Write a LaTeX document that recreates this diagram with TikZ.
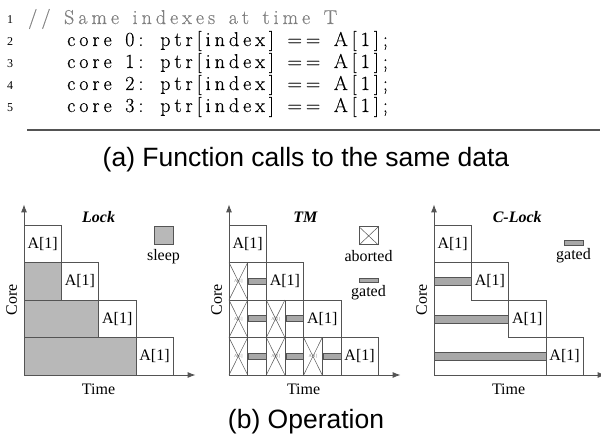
\documentclass[tikz,border=0pt]{standalone}
\usepackage{fontspec}
\setmainfont{Liberation Serif}
\newfontfamily\capfont{Liberation Sans}
\newfontfamily\codefont[LetterSpace=20,FakeBold=0.4,WordSpace=1.35]{Latin Modern Roman}
\usetikzlibrary{arrows.meta}

\definecolor{linegray}{gray}{0.33}
\definecolor{sleepgray}{gray}{0.72}
\definecolor{bargray}{gray}{0.66}
\definecolor{commentgray}{gray}{0.5}

\providecommand*{\rowH}{}
\providecommand*{\colW}{}
\renewcommand*{\rowH}{37.5pt}
\renewcommand*{\colW}{37.3pt}

\tikzset{
  box/.style={draw=linegray,line width=0.8pt},
  sleepbox/.style={box,fill=sleepgray},
  gatebar/.style={fill=bargray,draw=linegray,line width=0.6pt},
  lbl/.style={inner sep=0pt,font=\fontsize{16}{16}\selectfont},
  tinylbl/.style={inner sep=0pt,text=commentgray,font=\fontsize{4.5}{4.5}\selectfont},
  ptitle/.style={inner sep=0pt,font=\fontsize{16}{16}\selectfont\bfseries\itshape},
  codeline/.style={inner sep=0pt,anchor=base west,font=\codefont\fontsize{20}{20}\selectfont},
  lineno/.style={inner sep=0pt,anchor=base,font=\fontsize{12}{12}\selectfont},
  caption/.style={inner sep=0pt,anchor=base,font=\capfont\fontsize{26.5}{26.5}\selectfont},
  axis/.style={<->,>={Latex[length=8pt,width=6pt]},line width=0.9pt,draw=linegray},
}

% aborted cell: lower left corner, half a column wide
\newcommand*{\abortcell}[3]{%
  \node[tinylbl] (#3) at (#1+0.25,#2+0.5) {A[1]};
  \draw[box] (#1,#2) rectangle ++(0.5,1);
  \draw[box,line width=0.5pt] (#1,#2) -- ++(0.5,1) (#1+0.5,#2) -- ++(-0.5,1);
}

\begin{document}
\begin{tikzpicture}[x=1pt,y=-1pt]
  \useasboundingbox (0,0) rectangle (601,438);

%listing
  \node[lineno] (n1) at (10,24) {1};
  \node[lineno] (n2) at (10,46) {2};
  \node[lineno] (n3) at (10,68) {3};
  \node[lineno] (n4) at (10,90) {4};
  \node[lineno] (n5) at (10,112) {5};
  \node[codeline,text=commentgray] (l1) at (28,24) {// Same indexes at time T};
  \node[codeline] (l2) at (67,46) {core 0: ptr[index] == A[1];};
  \node[codeline] (l3) at (67,68) {core 1: ptr[index] == A[1];};
  \node[codeline] (l4) at (67,90) {core 2: ptr[index] == A[1];};
  \node[codeline] (l5) at (67,112) {core 3: ptr[index] == A[1];};
  \draw [linegray,line width=1.2pt] (27,130) -- (600,130);
  \node[caption] (capa) at (306,167) {(a) Function calls to the same data};

%Lock
  \begin{scope}[shift={(24,375)},x=\colW,y=\rowH]
    \draw [sleepbox] (0,0) rectangle (3,1);
    \draw [sleepbox] (0,1) rectangle (2,2);
    \draw [sleepbox] (0,2) rectangle (1,3);
    \draw [box] (3,0) rectangle (4,1) node [lbl,midway] (lk3) {A[1]};
    \draw [box] (2,1) rectangle (3,2) node [lbl,midway] (lk2) {A[1]};
    \draw [box] (1,2) rectangle (2,3) node [lbl,midway] (lk1) {A[1]};
    \draw [box] (0,3) rectangle (1,4) node [lbl,midway] (lk0) {A[1]};
    \draw [sleepbox] (3.49,3.47) rectangle (4,3.95);
    \node[lbl] (lksleep) at (3.74,3.15) {sleep};
    \node[ptitle] (lktitle) at (2,4.2) {Lock};
    \node[lbl,rotate=90] (lkcore) at (-0.33,2) {Core};
    \node[lbl] (lktime) at (2,-0.37) {Time};
    \draw [axis] (0,4.55) |- (4.6,0);
  \end{scope}

%TM
  \begin{scope}[shift={(229,375)},x=\colW,y=\rowH]
%rows
    \draw [box] (0,3) rectangle (1,4) node [lbl,midway] (tm0) {A[1]};
    \draw [box] (0,2) rectangle (2,3);
    \draw [box] (0,1) rectangle (3,2);
    \draw [box] (0,0) rectangle (4,1);
%v
    \draw [box] (1,0) -- (1,3);
    \draw [box] (2,0) -- (2,2);
    \draw [box] (3,0) -- (3,1);
    \draw [box] (1.5,0) -- (1.5,2);
    \draw [box] (2.5,0) -- (2.5,1);
    \node[lbl] (tm1) at (1.5,2.5) {A[1]};
    \node[lbl] (tm2) at (2.5,1.5) {A[1]};
    \node[lbl] (tm3) at (3.5,0.5) {A[1]};
%aborted
    \abortcell{0}{2}{ab02}
    \abortcell{0}{1}{ab01}
    \abortcell{1}{1}{ab11}
    \abortcell{0}{0}{ab00}
    \abortcell{1}{0}{ab10}
    \abortcell{2}{0}{ab20}
%gated
    \draw [gatebar] (0.53,2.42) rectangle (1,2.58);
    \draw [gatebar] (0.53,1.42) rectangle (1,1.58);
    \draw [gatebar] (1.53,1.42) rectangle (2,1.58);
    \draw [gatebar] (0.53,0.42) rectangle (1,0.58);
    \draw [gatebar] (1.53,0.42) rectangle (2,0.58);
    \draw [gatebar] (2.53,0.42) rectangle (3,0.58);
%legend
    \draw [box] (3.49,3.47) rectangle (4,3.95);
    \draw [box,line width=0.5pt] (3.49,3.47) -- (4,3.95) (4,3.47) -- (3.49,3.95);
    \node[lbl] (tmabort) at (3.74,3.16) {aborted};
    \draw [gatebar] (3.49,2.46) rectangle (4,2.59);
    \node[lbl] (tmgated) at (3.74,2.19) {gated};
    \node[ptitle] (tmtitle) at (2.05,4.2) {TM};
    \node[lbl,rotate=90] (tmcore) at (-0.33,2) {Core};
    \node[lbl] (tmtime) at (2,-0.37) {Time};
    \draw [axis] (0,4.55) |- (4.6,0);
  \end{scope}

%C-Lock
  \begin{scope}[shift={(434,375)},x=\colW,y=\rowH]
    \draw [box] (0,3) rectangle (1,4) node [lbl,midway] (cl0) {A[1]};
    \draw [box] (1,2) rectangle (2,3) node [lbl,midway] (cl1) {A[1]};
    \draw [box] (2,1) rectangle (3,2) node [lbl,midway] (cl2) {A[1]};
    \draw [box] (3,0) rectangle (4,1) node [lbl,midway] (cl3) {A[1]};
    \draw [box] (0,3) -- (1,3);
%gated
    \draw [gatebar] (0,2.39) rectangle (1,2.6);
    \draw [gatebar] (0,1.39) rectangle (2,1.6);
    \draw [gatebar] (0,0.39) rectangle (3,0.6);
%legend
    \draw [gatebar] (3.49,3.47) rectangle (4,3.58);
    \node[lbl] (clgated) at (3.74,3.17) {gated};
    \node[ptitle] (cltitle) at (2.23,4.2) {C-Lock};
    \node[lbl,rotate=90] (clcore) at (-0.33,2) {Core};
    \node[lbl] (cltime) at (2,-0.37) {Time};
    \draw [axis] (0,4.55) |- (4.6,0);
  \end{scope}

  \node[caption] (capb) at (306,428) {(b) Operation};
\end{tikzpicture}
\end{document}
